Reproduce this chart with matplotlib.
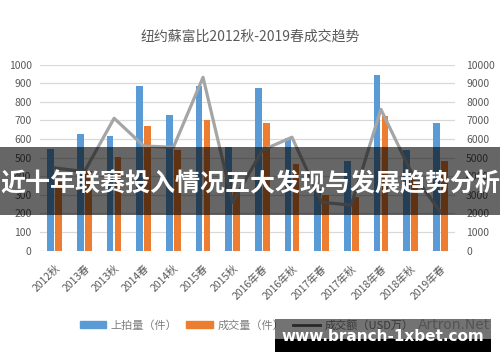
import matplotlib as mpl
import matplotlib.pyplot as plt
from matplotlib.patches import Rectangle
from matplotlib.lines import Line2D
import numpy as np

mpl.rcParams['font.family'] = ['Noto Sans CJK SC', 'DejaVu Sans']

seasons = ["2012秋", "2013春", "2013秋", "2014春", "2014秋", "2015春", "2015秋",
           "2016年春", "2016年秋", "2017年春", "2017年秋", "2018年春", "2018年秋", "2019年春"]
lots_offered = [547, 626, 618, 887, 730, 887, 560, 873, 604, 330, 484, 944, 541, 685]
lots_sold = [370, 430, 502, 672, 541, 701, 330, 685, 466, 300, 290, 726, 390, 482]
turnover = [4450, 4250, 7120, 5630, 5560, 9320, 2600, 5400, 6100, 2600, 2450, 7600, 4300, 2100]

blue = '#5b9bd5'
orange = '#ed7d31'
gray_line = '#a5a5a5'
txt = '#595959'

fig = plt.figure(figsize=(5, 3.62), dpi=100)
ax = fig.add_axes([0.08, 0.3075, 0.83, 0.5138])
ax2 = ax.twinx()

x = np.arange(len(seasons))
w = 0.225
ax.bar(x - 0.135, lots_offered, width=w, color=blue, zorder=2)
ax.bar(x + 0.135, lots_sold, width=w, color=orange, zorder=2)
ax2.plot(x, turnover, color=gray_line, lw=2.3, zorder=3)

ax.set_xlim(-0.5, len(seasons) - 0.5)
ax.set_ylim(0, 1000)
ax.set_yticks(np.arange(0, 1001, 100))
ax2.set_ylim(0, 10000)
ax2.set_yticks(np.arange(0, 10001, 1000))

ax.grid(axis='y', color='#d9d9d9', lw=0.9, zorder=0)
for a in (ax, ax2):
    for s in a.spines.values():
        s.set_visible(False)
ax.tick_params(axis='y', length=0, pad=6, labelsize=7.5, labelcolor=txt)
ax2.tick_params(axis='y', length=0, pad=8, labelsize=7.5, labelcolor=txt)
ax.set_xticks(x)
ax.set_xticklabels(seasons, rotation=45, ha='right', va='top',
                   rotation_mode='anchor', fontsize=7.5, color=txt)
ax.tick_params(axis='x', length=0, pad=9)

fig.text(0.5, 0.898, "纽约蘇富比2012秋-2019春成交趋势", ha='center', va='center',
         fontsize=10, color=txt)

handles = [Rectangle((0, 0), 1, 1, color=blue),
           Rectangle((0, 0), 1, 1, color=orange),
           Line2D([0], [0], color=txt, lw=2)]
fig.legend(handles, ["上拍量（件）", "成交量（件）", "成交额（USD万）"],
           loc='center', bbox_to_anchor=(0.493, 0.102), ncol=3, frameon=False,
           fontsize=8, labelcolor='#7f7f7f', handlelength=2.4, handleheight=0.6,
           columnspacing=0.8, handletextpad=0.4)

# overlay banner
fig.add_artist(Rectangle((0, 0.406), 1, 0.188, transform=fig.transFigure,
                         color='black', alpha=0.6, zorder=10, lw=0))
fig.text(0.5, 0.49, "近十年联赛投入情况五大发现与发展趋势分析", ha='center', va='center',
         fontsize=18, fontweight='bold', color='white', zorder=11)

# watermark
fig.text(0.98, 0.102, "Artron.Net", ha='right', va='center', fontsize=10,
         color='#bbbbbb', zorder=9, family='DejaVu Sans')
fig.add_artist(Rectangle((0.55, 0.0635), 0.432, 0.055, transform=fig.transFigure,
                         color='black', alpha=0.55, zorder=10, lw=0))
fig.add_artist(Rectangle((0.55, 0.028), 0.432, 0.036, transform=fig.transFigure,
                         color='black', zorder=10, lw=0))
fig.text(0.765, 0.07, "www.branch-1xbet.com", ha='center', va='center',
         fontsize=11, fontweight='bold', color='white', zorder=11, family='DejaVu Sans')

fig.savefig('out.png', dpi=100)
